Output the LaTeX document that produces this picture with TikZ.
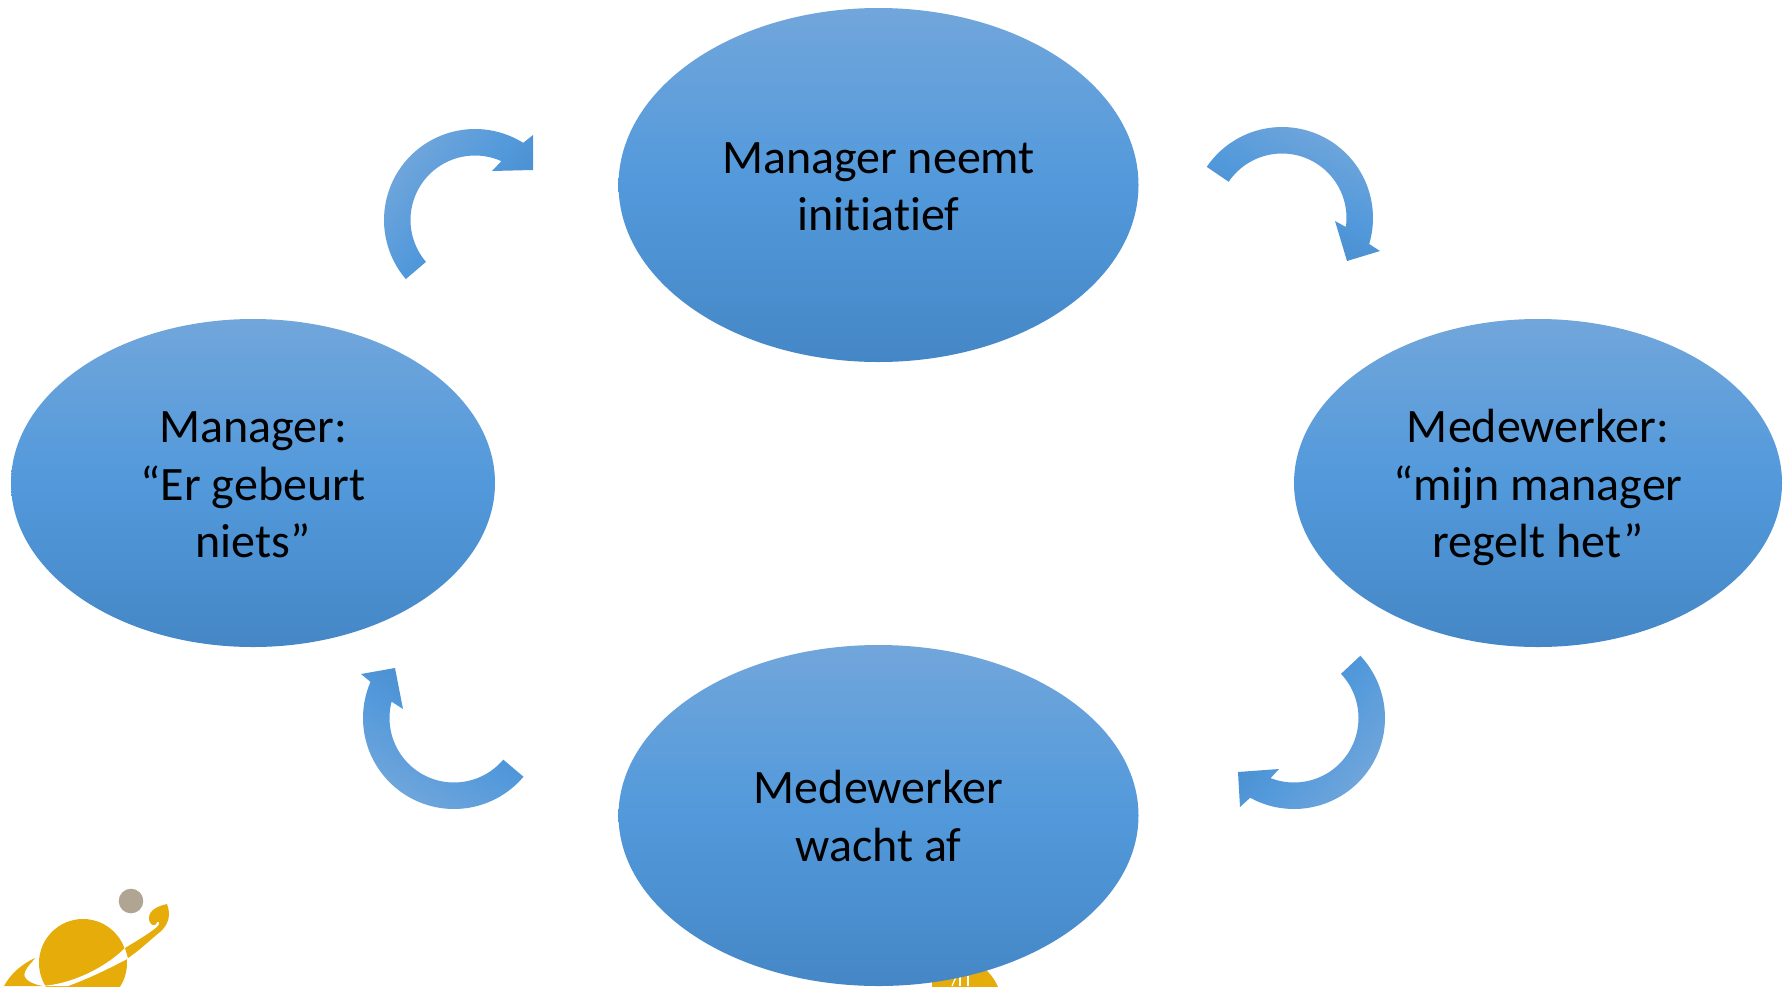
\documentclass[tikz,border=0pt]{standalone}
\usepackage{fontspec}
\setmainfont[Ligatures=NoCommon]{Carlito}
\usetikzlibrary{shapes.geometric}
\definecolor{blueL}{HTML}{71A6DB}
\definecolor{blueM}{HTML}{5299DB}
\definecolor{blueD}{HTML}{4587C6}
\definecolor{gold}{HTML}{E6AC0A}
\definecolor{dot}{HTML}{B0A593}
\newcommand{\lineprop}{\rule[-11.8pt]{0pt}{57.6pt}}
\tikzset{
  bubble/.style={ellipse, draw=none, inner sep=0pt, top color=blueL, bottom color=blueD, middle color=blueM,
    align=center, text=black, font=\fontsize{48}{57.6}\selectfont},
  arcfill/.style={draw=none, top color=blueL, bottom color=blueD, middle color=blueM},
}
% #1,#2 centre; #3 tail angle; #4 outer neck angle; #5 inner neck angle; #6,#7,#8 barb, tip, barb; #9 shading angle
\newcommand{\blockarrow}[9]{%
  \shade[arcfill, shading angle=#9]
    plot[domain=#3:#4, samples=50] ({#1+91*cos(\x)},{#2+91*sin(\x)})
    -- #6 -- #7 -- #8
    -- plot[domain=#5:#3, samples=50] ({#1+64.5*cos(\x)},{#2+64.5*sin(\x)}) -- cycle;
}
\begin{document}
\begin{tikzpicture}[x=1pt,y=-1pt]
\useasboundingbox (0,0) rectangle (1789,986);
\begin{scope}
\clip (0,0) rectangle (1789,986);
% logo, left
\fill[gold] (83,963) circle[radius=44];
\fill[dot] (131,901) circle[radius=12.3];
\fill[gold] (35,958) .. controls (20,965) and (10,975) .. (4,986) -- (43,986)
  .. controls (30,984) and (22,978) .. (25,972) .. controls (27,966) and (31,964) .. (35,958) -- cycle;
\fill[white] (40,986) .. controls (70,985) and (105,968) .. (125,948) -- (129,958) .. controls (110,968) and (90,978) .. (68,986) -- cycle;
\fill[gold] (125,948) .. controls (135,942) and (150,933) .. (157,927)
  .. controls (160,924) and (160,921) .. (157,922) .. controls (155,928) and (149,925) .. (149,918)
  .. controls (149,910) and (158,906) .. (167,904) .. controls (171,915) and (169,924) .. (160,932)
  .. controls (150,940) and (140,950) .. (128,958) -- cycle;
\end{scope}
% logo, behind bottom bubble
\begin{scope}
\clip (932,900) rectangle (1100,986);
\fill[gold] (954,1005) circle[radius=47.5];
\draw[white, line width=1.2pt] (952,986) -- (956,977);
\draw[white, line width=1.2pt] (960,986) -- (960,976);
\draw[white, line width=1.2pt] (968,986) -- (968,976);
\end{scope}
% bubbles
\node[bubble, minimum width=520pt, minimum height=354pt] (top) at (878.5,185) {\lineprop Manager neemt\\\lineprop initiatief};
\node[bubble, minimum width=484pt, minimum height=328pt] (left) at (253,483) {\lineprop Manager:\\\lineprop “Er gebeurt\\\lineprop niets”};
\node[bubble, minimum width=488pt, minimum height=328pt] (right) at (1538,483) {\lineprop Medewerker:\\\lineprop “mijn manager\\\lineprop regelt het”};
\node[bubble, minimum width=520pt, minimum height=341pt] (bottom) at (878.5,815.5) {\lineprop Medewerker\\\lineprop wacht af};
% circular arrows
\blockarrow{1282}{218}{-145.8}{16.6}{8}{(1380,251)}{(1347,261)}{(1335,221)}{-25}
\blockarrow{475}{220}{139.5}{302}{294.1}{(533,135)}{(533,170)}{(492,171)}{50}
\blockarrow{454}{718}{40.2}{203.4}{194.7}{(361,674)}{(395,668)}{(403,709)}{148}
\blockarrow{1294}{718}{-43.2}{118.8}{111.3}{(1240,807)}{(1238,772)}{(1279,769)}{-128}
\end{tikzpicture}
\end{document}
